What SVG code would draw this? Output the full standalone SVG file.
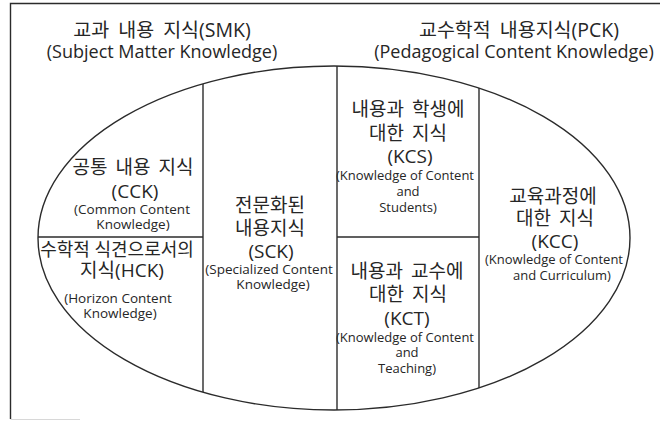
<svg xmlns="http://www.w3.org/2000/svg" width="660" height="422" viewBox="0 0 660 422">
  <style>
    .ln { fill: none; stroke: #2b2b2b; stroke-width: 1.4; }
    .faint { fill: none; stroke: #d8d8d8; stroke-width: 1; }
    text { fill: #262626; font-family: "Open Sans", "Noto Sans CJK KR", sans-serif; text-anchor: middle; }
    .title { font-size: 18px; }
    .tk { font-size: 19.5px; word-spacing: 4px; }
    .ko { font-size: 19px; word-spacing: 3px; }
    .tight { font-size: 18px; word-spacing: 0; }
    .abbr { font-size: 19px; }
    .en { font-size: 13.5px; }
    .en2 { font-size: 13px; }
  </style>
  <rect width="660" height="422" fill="#ffffff"/>

  <!-- outer frame -->
  <path class="ln" d="M660,3.5 H10.5 V419"/>
  <path class="faint" d="M10.5,419.5 H80"/>

  <!-- headings -->
  <g id="smk">
    <text class="tk" x="162" y="37">교과 내용 지식(SMK)</text>
    <text class="title" x="162" y="58">(Subject Matter Knowledge)</text>
  </g>
  <g id="pck">
    <text class="tk" x="519" y="37">교수학적 내용지식(PCK)</text>
    <text class="title" x="514" y="58">(Pedagogical Content Knowledge)</text>
  </g>

  <!-- ellipse and its partitions -->
  <g id="connectors">
    <ellipse class="ln" cx="334" cy="238" rx="296" ry="172"/>
    <line class="ln" x1="203" y1="84" x2="203" y2="392"/>
    <line class="ln" x1="337" y1="66" x2="337" y2="410"/>
    <line class="ln" x1="479" y1="88" x2="479" y2="388"/>
    <line class="ln" x1="38" y1="237" x2="203" y2="237"/>
    <line class="ln" x1="337" y1="237" x2="479" y2="237"/>
  </g>

  <g id="cck">
    <text class="ko" x="133" y="174">공통 내용 지식</text>
    <text class="abbr" x="135" y="198">(CCK)</text>
    <text class="en" x="132" y="214">(Common Content</text>
    <text class="en" x="133" y="229">Knowledge)</text>
  </g>

  <g id="hck">
    <text class="ko tight" x="117" y="256">수학적 식견으로서의</text>
    <text class="ko" x="122" y="277">지식(HCK)</text>
    <text class="en" x="118" y="303">(Horizon Content</text>
    <text class="en" x="120" y="318">Knowledge)</text>
  </g>

  <g id="sck">
    <text class="ko" x="270" y="212">전문화된</text>
    <text class="ko" x="270" y="235">내용지식</text>
    <text class="abbr" x="271" y="258">(SCK)</text>
    <text class="en" x="269" y="274">(Specialized Content</text>
    <text class="en" x="273" y="289">Knowledge)</text>
  </g>

  <g id="kcs">
    <text class="ko" x="408" y="116">내용과 학생에</text>
    <text class="ko" x="408" y="140">대한 지식</text>
    <text class="abbr" x="410" y="163">(KCS)</text>
    <text class="en2" x="405" y="180">(Knowledge of Content</text>
    <text class="en2" x="408" y="196">and</text>
    <text class="en2" x="408" y="212">Students)</text>
  </g>

  <g id="kct">
    <text class="ko" x="407" y="278">내용과 교수에</text>
    <text class="ko" x="408" y="301">대한 지식</text>
    <text class="abbr" x="407" y="325">(KCT)</text>
    <text class="en2" x="405" y="342">(Knowledge of Content</text>
    <text class="en2" x="407" y="357">and</text>
    <text class="en2" x="407" y="373">Teaching)</text>
  </g>

  <g id="kcc">
    <text class="ko" x="553" y="203">교육과정에</text>
    <text class="ko" x="555" y="225">대한 지식</text>
    <text class="abbr" x="555" y="248">(KCC)</text>
    <text class="en2" x="554" y="264">(Knowledge of Content</text>
    <text class="en2" x="562" y="280">and Curriculum)</text>
  </g>
</svg>
